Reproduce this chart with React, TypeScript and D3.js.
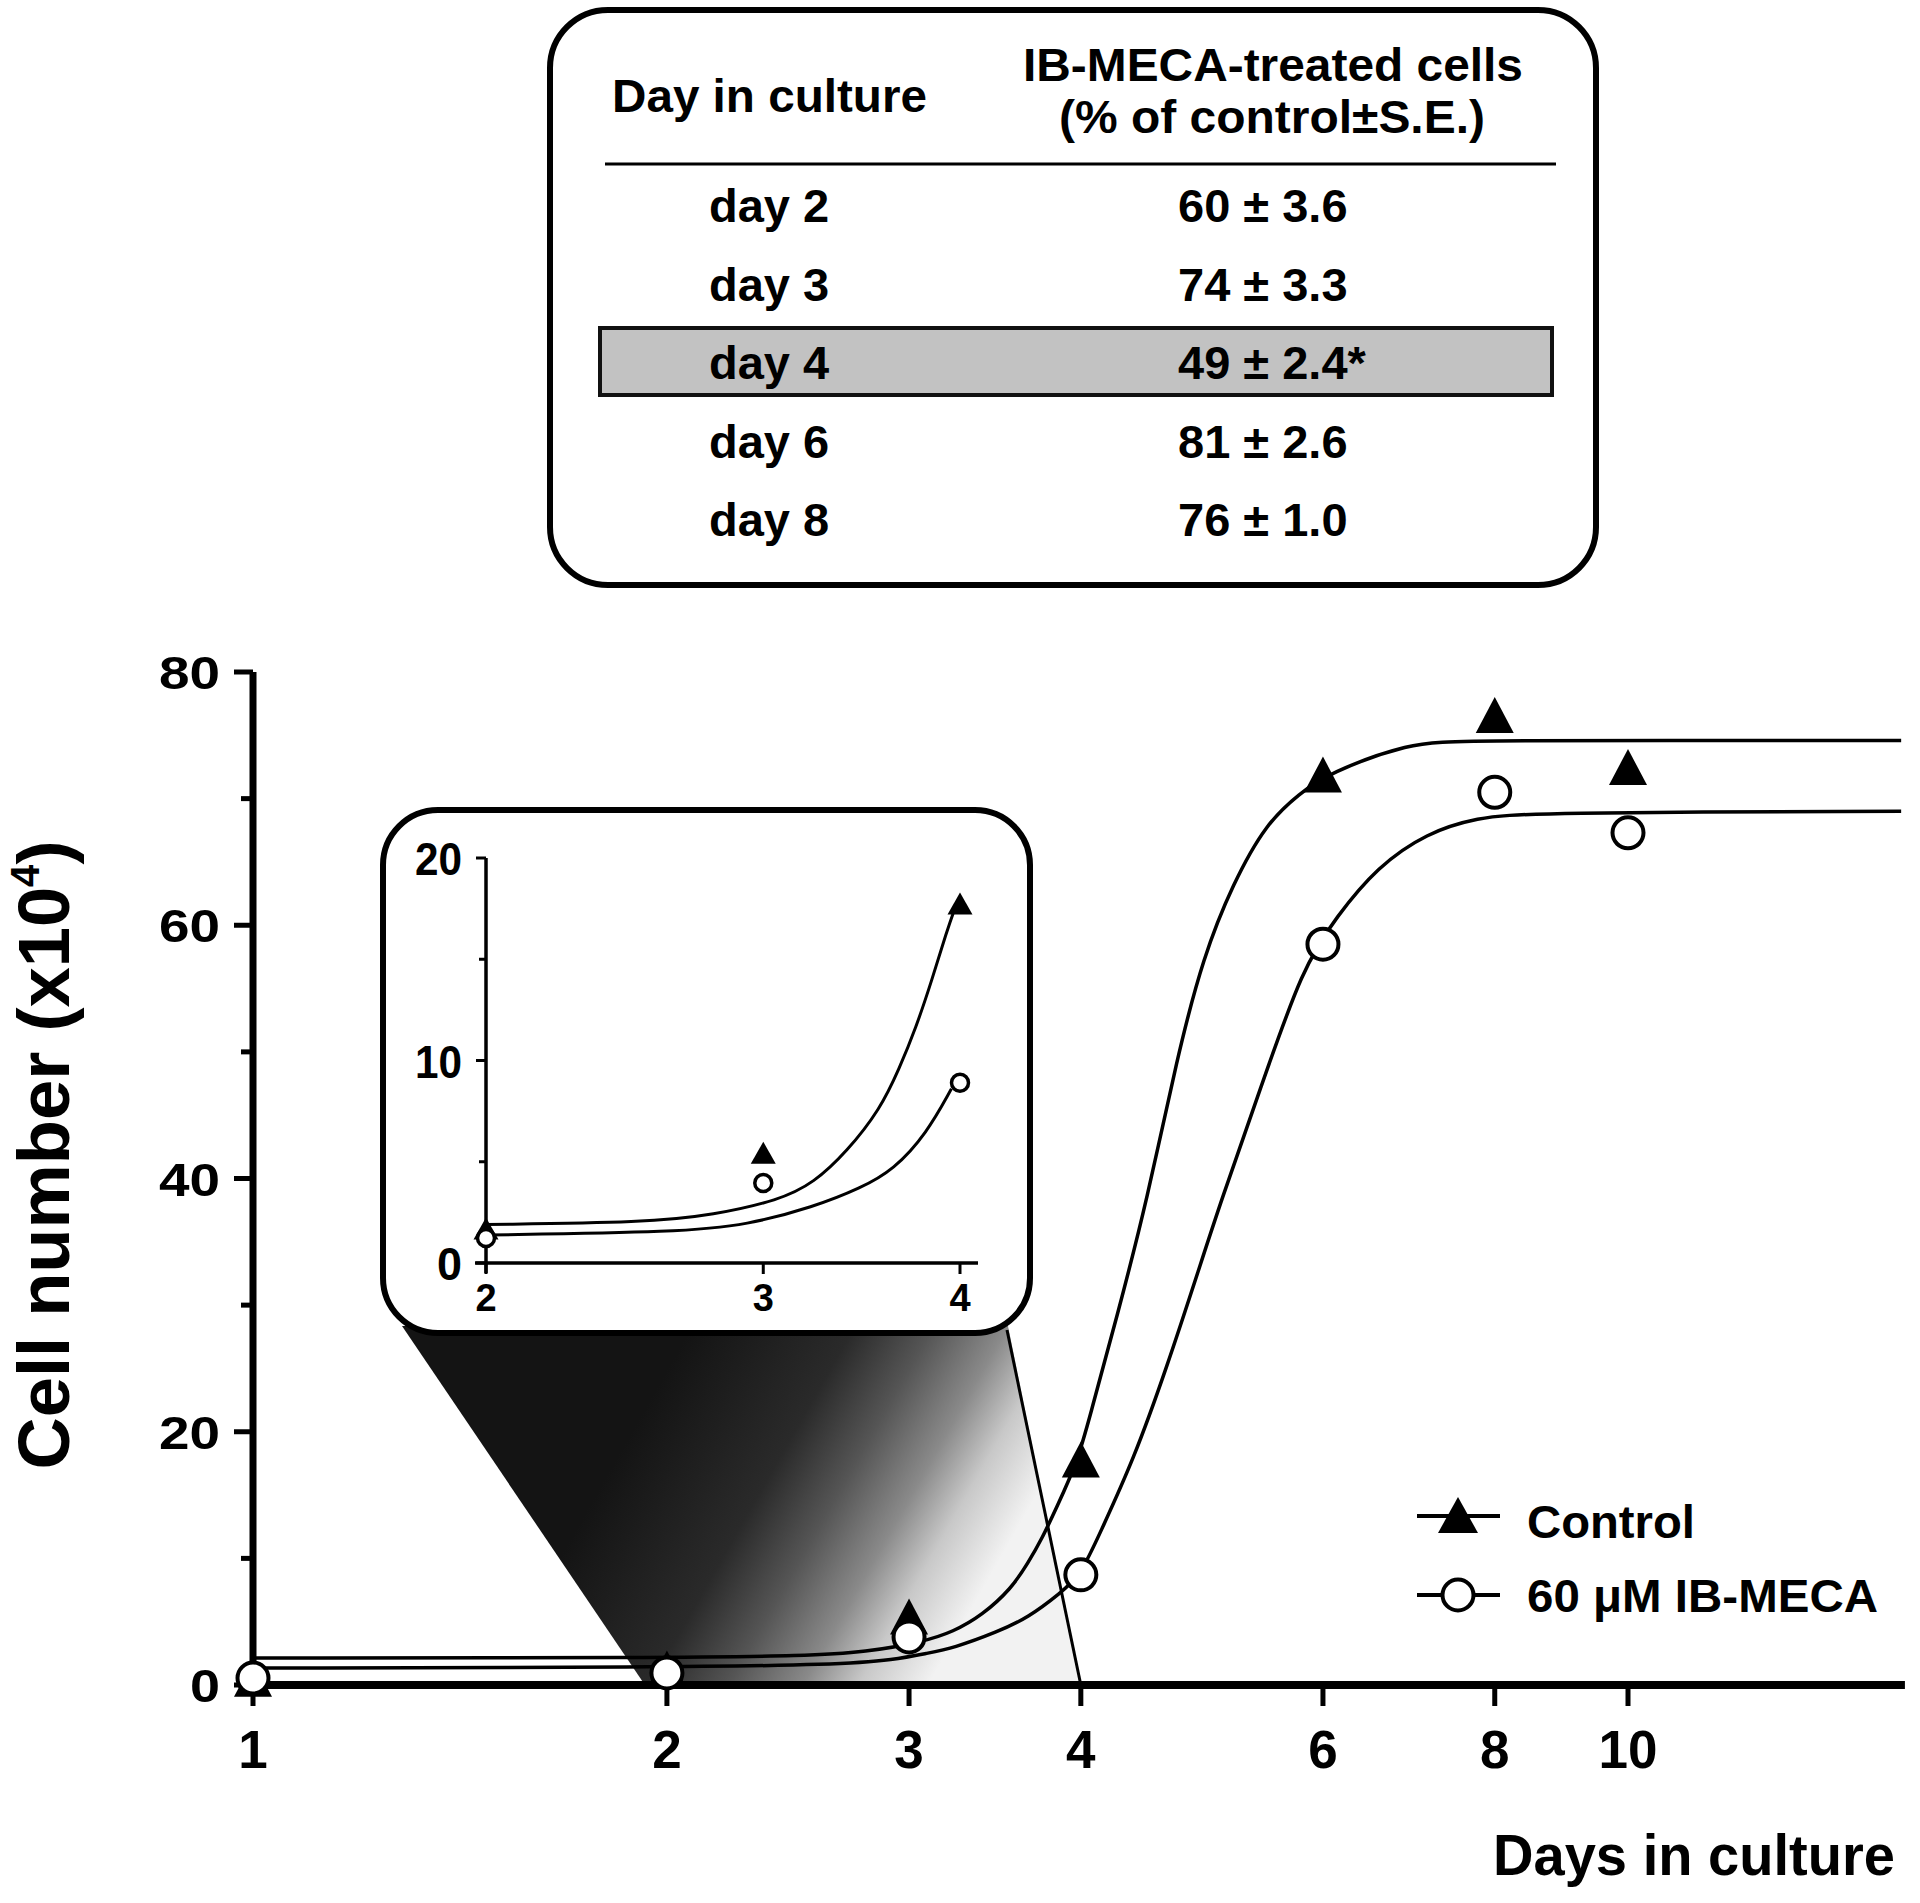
import React from 'react';
import * as d3 from 'd3';

// ---------- table data ----------
const tableHeaderLeft = 'Day in culture';
const tableHeaderRight1 = 'IB-MECA-treated cells';
const tableHeaderRight2 = '(% of control±S.E.)';
const tableDays = ['day 2', 'day 3', 'day 4', 'day 6', 'day 8'];
const tableValues = ['60 ± 3.6', '74 ± 3.3', '49 ± 2.4*', '81 ± 2.6', '76 ± 1.0'];
const highlightRow = 2;

// ---------- main chart data ----------
const xTicks = [1, 2, 3, 4, 6, 8, 10];
const xAxisMax = 15.9;
const yTicks = [0, 20, 40, 60, 80];
const yMinorTicks = [10, 30, 50, 70];

const controlDays = [1, 2, 3, 4, 6, 8, 10];
const controlValues = [0.5, 1.3, 5.4, 17.8, 71.9, 76.6, 72.5];
const mecaDays = [1, 2, 3, 4, 6, 8, 10];
const mecaValues = [0.55, 0.95, 3.8, 8.7, 58.5, 70.5, 67.3];

const controlFitDays = [1, 2, 2.53, 2.79, 3.07, 3.23, 3.39, 3.56, 3.66, 3.75, 3.84, 3.98, 4.06, 4.25, 4.47, 4.7, 4.91, 5.16, 5.46, 5.77, 6.05, 6.94, 7.55, 15.8];
const controlFitValues = [2.13, 2.15, 2.3, 2.6, 3.4, 4.2, 5.5, 7.6, 9.6, 11.6, 14.0, 17.7, 21.2, 29.1, 38.3, 49.6, 57.5, 63.3, 68.1, 70.4, 72.0, 74.4, 74.6, 74.6];
const mecaFitDays = [1, 2, 2.66, 2.93, 3.09, 3.23, 3.48, 3.66, 3.87, 4.0, 4.13, 4.37, 4.62, 4.88, 5.05, 5.4, 5.8, 6.14, 6.57, 7.14, 7.77, 8.47, 15.8];
const mecaFitValues = [1.34, 1.4, 1.6, 2.0, 2.5, 2.9, 4.2, 5.3, 7.3, 8.7, 12.0, 17.8, 25.1, 33.0, 38.0, 47.0, 56.7, 60.7, 64.6, 67.3, 68.5, 68.9, 69.0];

// ---------- inset data ----------
const insetXTicks = [2, 3, 4];
const insetYTicks = [0, 10, 20];
const insetYMinor = [5, 15];
const insetControlDays = [2, 3, 4];
const insetControlValues = [1.7, 5.45, 17.75];
const insetMecaDays = [2, 3, 4];
const insetMecaValues = [1.23, 3.95, 8.9];
const insetControlFitDays = [2, 2.53, 2.79, 3.07, 3.23, 3.39, 3.56, 3.66, 3.75, 3.84, 3.92, 3.98];
const insetControlFitValues = [1.9, 2.0, 2.37, 3.1, 3.95, 5.5, 7.6, 9.6, 11.6, 14.0, 16.3, 17.75];
const insetMecaFitDays = [2, 2.66, 2.93, 3.23, 3.46, 3.63, 3.81, 3.95];
const insetMecaFitValues = [1.38, 1.53, 1.88, 2.77, 3.7, 4.6, 6.4, 8.6];

// ---------- legend ----------
const legendLabels = ['Control', '60 μM IB-MECA'];

const F = "'Liberation Sans', Arial, Helvetica, sans-serif";

function tri(cx: number, cy: number, w: number, h: number) {
  return `M${cx},${cy - h / 2}L${cx + w / 2},${cy + h / 2}L${cx - w / 2},${cy + h / 2}Z`;
}

export default function App() {
  const x = d3.scaleLog().domain([1, 10]).range([253, 1628]);
  const y = d3.scaleLinear().domain([0, 80]).range([1685, 672]);
  const ix = d3.scaleLog().domain([2, 4]).range([486, 960]);
  const iy = d3.scaleLinear().domain([0, 20]).range([1263, 858]);
  const rowY = d3.scalePoint<string>().domain(tableDays).range([222, 536]);

  const mainLine = d3
    .line<[number, number]>()
    .x((d) => x(d[0]))
    .y((d) => y(d[1]))
    .curve(d3.curveBasis);
  const insetLine = d3
    .line<[number, number]>()
    .x((d) => ix(d[0]))
    .y((d) => iy(d[1]))
    .curve(d3.curveBasis);

  const zip = (a: number[], b: number[]) => a.map((v, i) => [v, b[i]] as [number, number]);

  const x0 = x(1);
  const yBase = y(0);

  // zoom-projection trapezoid
  const trap = `M402,1326L1008,1326L${x(4)},${yBase}L${x(2) - 22},${yBase}Z`;

  return (
    <svg
      width={1920}
      height={1903}
      style={{ position: 'absolute', left: 0, top: 0, background: '#fff' }}
      fontFamily={F}
      fontWeight="bold"
    >
      <defs>
        <linearGradient id="zoomGrad" gradientUnits="userSpaceOnUse" x1={650} y1={1400} x2={1000} y2={1600}>
          <stop offset="0" stopColor="#141414" />
          <stop offset="0.35" stopColor="#2a2a2a" />
          <stop offset="0.52" stopColor="#555" />
          <stop offset="0.68" stopColor="#8a8a8a" />
          <stop offset="0.8" stopColor="#c8c8c8" />
          <stop offset="0.95" stopColor="#f2f2f2" />
        </linearGradient>
      </defs>
      <rect x={0} y={0} width={1920} height={1903} fill="#fff" />

      {/* ---------- table ---------- */}
      <rect x={550} y={10} width={1046} height={575} rx={58} ry={58} fill="#fff" stroke="#000" strokeWidth={6} />
      <text x={612} y={112} fontSize={46} textLength={315} lengthAdjust="spacingAndGlyphs">{tableHeaderLeft}</text>
      <text x={1273} y={81} fontSize={46} textAnchor="middle" textLength={500} lengthAdjust="spacingAndGlyphs">{tableHeaderRight1}</text>
      <text x={1272} y={133} fontSize={46} textAnchor="middle" textLength={426} lengthAdjust="spacingAndGlyphs">{tableHeaderRight2}</text>
      <line x1={605} x2={1556} y1={164} y2={164} stroke="#000" strokeWidth={3} />
      <rect x={600} y={(rowY(tableDays[highlightRow]) as number) - 51} width={952} height={67} fill="#c2c2c2" stroke="#111" strokeWidth={4} />
      {tableDays.map((d, i) => (
        <g key={d}>
          <text x={709} y={rowY(d)} fontSize={47}>{d}</text>
          <text x={1178} y={rowY(d)} fontSize={47}>{tableValues[i]}</text>
        </g>
      ))}

      {/* ---------- zoom trapezoid ---------- */}
      <path d={trap} fill="url(#zoomGrad)" />
      <line x1={1007} y1={1330} x2={x(4)} y2={yBase} stroke="#000" strokeWidth={3} />

      {/* ---------- main axes ---------- */}
      <line x1={x0} x2={x0} y1={y(80)} y2={yBase + 3} stroke="#000" strokeWidth={7} />
      <line x1={x0 - 3} x2={x(xAxisMax)} y1={yBase} y2={yBase} stroke="#000" strokeWidth={8} />
      {yTicks.map((t) => (
        <g key={'yt' + t}>
          <line x1={x0 - 19} x2={x0} y1={y(t)} y2={y(t)} stroke="#000" strokeWidth={5} />
          <text
            x={220}
            y={y(t) + 17}
            fontSize={47}
            textAnchor="end"
            textLength={t === 0 ? 30 : 61}
            lengthAdjust="spacingAndGlyphs"
          >
            {t}
          </text>
        </g>
      ))}
      {yMinorTicks.map((t) => (
        <line key={'ym' + t} x1={x0 - 12} x2={x0} y1={y(t)} y2={y(t)} stroke="#000" strokeWidth={5} />
      ))}
      {xTicks.map((t) => (
        <g key={'xt' + t}>
          <line x1={x(t)} x2={x(t)} y1={yBase} y2={yBase + 21} stroke="#000" strokeWidth={5} />
          <text x={x(t)} y={1768} fontSize={53} textAnchor="middle">{t}</text>
        </g>
      ))}
      <text x={1895} y={1875} fontSize={58} textAnchor="end" textLength={402} lengthAdjust="spacingAndGlyphs">
        Days in culture
      </text>
      <text
        transform="translate(69,1155) rotate(-90)"
        fontSize={72}
        textAnchor="middle"
        textLength={629}
        lengthAdjust="spacingAndGlyphs"
      >
        Cell number (x10
        <tspan fontSize={40} dy={-30}>4</tspan>
        <tspan dy={30}>)</tspan>
      </text>

      {/* ---------- main curves ---------- */}
      <path d={mainLine(zip(controlFitDays, controlFitValues)) || ''} fill="none" stroke="#000" strokeWidth={3.5} />
      <path d={mainLine(zip(mecaFitDays, mecaFitValues)) || ''} fill="none" stroke="#000" strokeWidth={3.5} />

      {/* ---------- main markers ---------- */}
      {controlDays.map((d, i) => (
        <path key={'ct' + d} d={tri(x(d), y(controlValues[i]), 38, 36)} fill="#000" />
      ))}
      {mecaDays.map((d, i) => (
        <circle key={'mc' + d} cx={x(d)} cy={y(mecaValues[i])} r={15.5} fill="#fff" stroke="#000" strokeWidth={4} />
      ))}

      {/* ---------- inset ---------- */}
      <rect x={383} y={810} width={647} height={523} rx={55} ry={55} fill="#fff" stroke="#000" strokeWidth={6} />
      <line x1={ix(2)} x2={ix(2)} y1={iy(20)} y2={iy(0) + 10} stroke="#000" strokeWidth={3.5} />
      <line x1={475} x2={978} y1={iy(0)} y2={iy(0)} stroke="#000" strokeWidth={3.5} />
      {insetYTicks.map((t) => (
        <g key={'iyt' + t}>
          <line x1={ix(2) - 10} x2={ix(2)} y1={iy(t)} y2={iy(t)} stroke="#000" strokeWidth={3} />
          <text
            x={462}
            y={iy(t) + 17}
            fontSize={46}
            textAnchor="end"
            textLength={t === 0 ? 25 : 47}
            lengthAdjust="spacingAndGlyphs"
          >
            {t}
          </text>
        </g>
      ))}
      {insetYMinor.map((t) => (
        <line key={'iym' + t} x1={ix(2) - 7} x2={ix(2)} y1={iy(t)} y2={iy(t)} stroke="#000" strokeWidth={3} />
      ))}
      {insetXTicks.map((t) => (
        <g key={'ixt' + t}>
          <line x1={ix(t)} x2={ix(t)} y1={iy(0)} y2={iy(0) + 11} stroke="#000" strokeWidth={3} />
          <text x={ix(t)} y={1311} fontSize={38} textAnchor="middle">{t}</text>
        </g>
      ))}
      <path d={insetLine(zip(insetControlFitDays, insetControlFitValues)) || ''} fill="none" stroke="#000" strokeWidth={3} />
      <path d={insetLine(zip(insetMecaFitDays, insetMecaFitValues)) || ''} fill="none" stroke="#000" strokeWidth={3} />
      {insetControlDays.map((d, i) => (
        <path key={'ict' + d} d={tri(ix(d), iy(insetControlValues[i]), 25, 22)} fill="#000" />
      ))}
      {insetMecaDays.map((d, i) => (
        <circle key={'imc' + d} cx={ix(d)} cy={iy(insetMecaValues[i])} r={8.5} fill="#fff" stroke="#000" strokeWidth={3.5} />
      ))}

      {/* ---------- legend ---------- */}
      <line x1={1417} x2={1500} y1={1516} y2={1516} stroke="#000" strokeWidth={4} />
      <path d={tri(1458, 1515, 40, 36)} fill="#000" />
      <line x1={1417} x2={1500} y1={1595} y2={1595} stroke="#000" strokeWidth={4} />
      <circle cx={1458} cy={1595} r={15.5} fill="#fff" stroke="#000" strokeWidth={4} />
      <text x={1527} y={1538} fontSize={46} textLength={168} lengthAdjust="spacingAndGlyphs">{legendLabels[0]}</text>
      <text x={1527} y={1612} fontSize={46} textLength={351} lengthAdjust="spacingAndGlyphs">{legendLabels[1]}</text>
    </svg>
  );
}
